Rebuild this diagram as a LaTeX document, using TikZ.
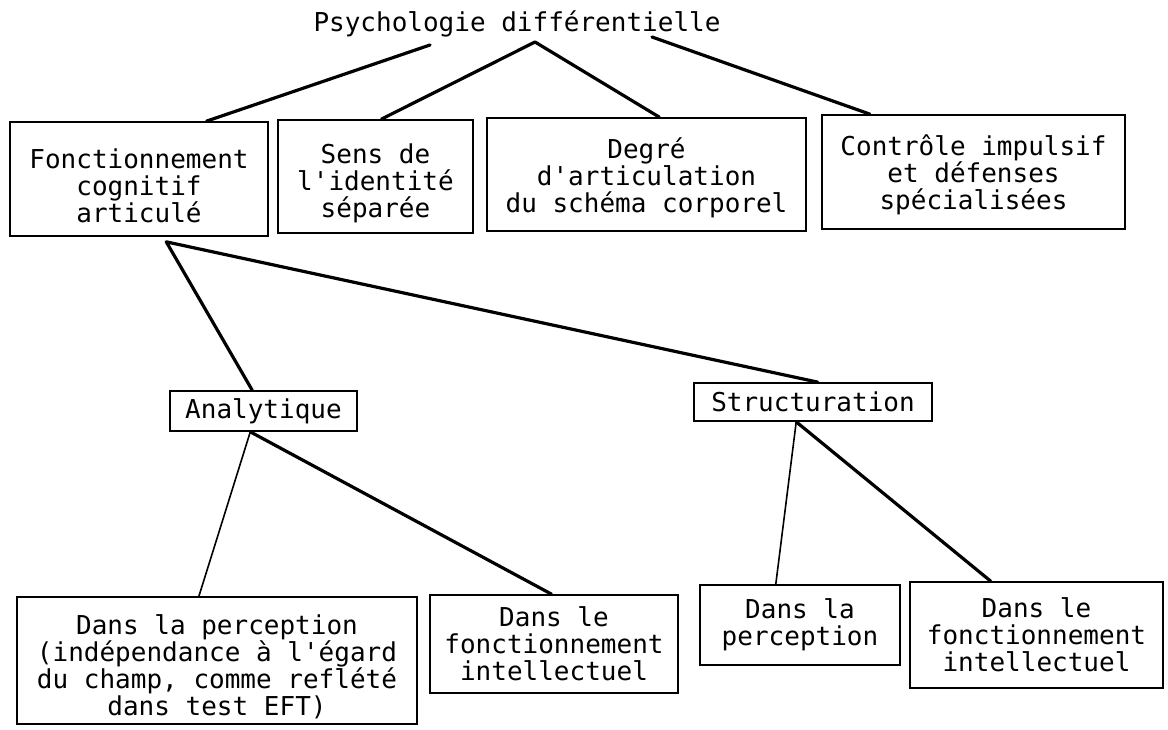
\documentclass[tikz,border=0pt]{standalone}
\usepackage{fontspec}
\setmonofont{DejaVu Sans Mono}
\usetikzlibrary{calc}
\newcommand{\topstrut}[1]{\rule{0pt}{#1}}
\begin{document}
\begin{tikzpicture}[x=1pt,y=-1pt,
  txt/.style={font=\ttfamily\fontsize{26}{27}\selectfont, align=center},
  box/.style={txt, draw, line width=1.7pt, inner sep=0pt},
  heavy/.style={line width=3.2pt, line join=round, line cap=round},
  light/.style={line width=1.6pt, line join=round, line cap=round}]
\useasboundingbox (0,0) rectangle (1168,730);
% title
\node[txt] (title) at (517,24) {Psychologie différentielle};
% top row
\node[box, minimum width=258, minimum height=114] (b1) at (139,179) {\topstrut{33pt}Fonctionnement\\cognitif\\articulé};
\node[box, minimum width=195, minimum height=113] (b2) at (375.5,176.5) {\topstrut{33pt}Sens de\\l'identité\\séparée};
\node[box, minimum width=319, minimum height=113] (b3) at (646.5,174.5) {\topstrut{28pt}Degré\\d'articulation\\du schéma corporel};
\node[box, minimum width=303, minimum height=114] (b4) at (973.5,172) {\topstrut{27pt}Contrôle impulsif\\et défenses\\spécialisées};
% middle row
\node[box, minimum width=187, minimum height=40] (an) at (263.5,411) {Analytique};
\node[box, minimum width=238, minimum height=38] (st) at (813,402) {Structuration};
% bottom row
\node[box, minimum width=400, minimum height=127] (p1) at (217,660.5) {\topstrut{33pt}Dans la perception\\(indépendance à l'égard\\du champ, comme reflété\\dans test EFT)};
\node[box, minimum width=248, minimum height=98] (p2) at (554,644) {Dans le\\fonctionnement\\intellectuel};
\node[box, minimum width=200, minimum height=80] (p3) at (800,625) {Dans la\\perception};
\node[box, minimum width=253, minimum height=106] (p4) at (1036.5,635) {Dans le\\fonctionnement\\intellectuel};
% connector anchors under the title
\coordinate (tA) at (430,45);
\coordinate (tB) at (535,42);
\coordinate (tD) at (652,37);
\coordinate (c1) at ($(b1.south west)!.605!(b1.south east)+(0,5)$);
% connectors
\draw[heavy] (tA) -- ($(b1.north west)!.76!(b1.north east)$);
\draw[heavy] ($(b2.north west)!.53!(b2.north east)$) -- (tB) -- ($(b3.north west)!.54!(b3.north east)$);
\draw[heavy] (tD) -- ($(b4.north west)!.16!(b4.north east)$);
\draw[heavy] ($(an.north west)!.44!(an.north east)$) -- (c1) -- ($(st.north west)!.52!(st.north east)$);
\draw[light] ($(p1.north west)!.455!(p1.north east)$) -- ($(an.south west)!.43!(an.south east)$);
\draw[heavy] ($(an.south west)!.43!(an.south east)$) -- ($(p2.north west)!.49!(p2.north east)$);
\draw[light] ($(p3.north west)!.38!(p3.north east)$) -- ($(st.south west)!.43!(st.south east)$);
\draw[heavy] ($(st.south west)!.43!(st.south east)$) -- ($(p4.north west)!.32!(p4.north east)$);
\end{tikzpicture}
\end{document}
